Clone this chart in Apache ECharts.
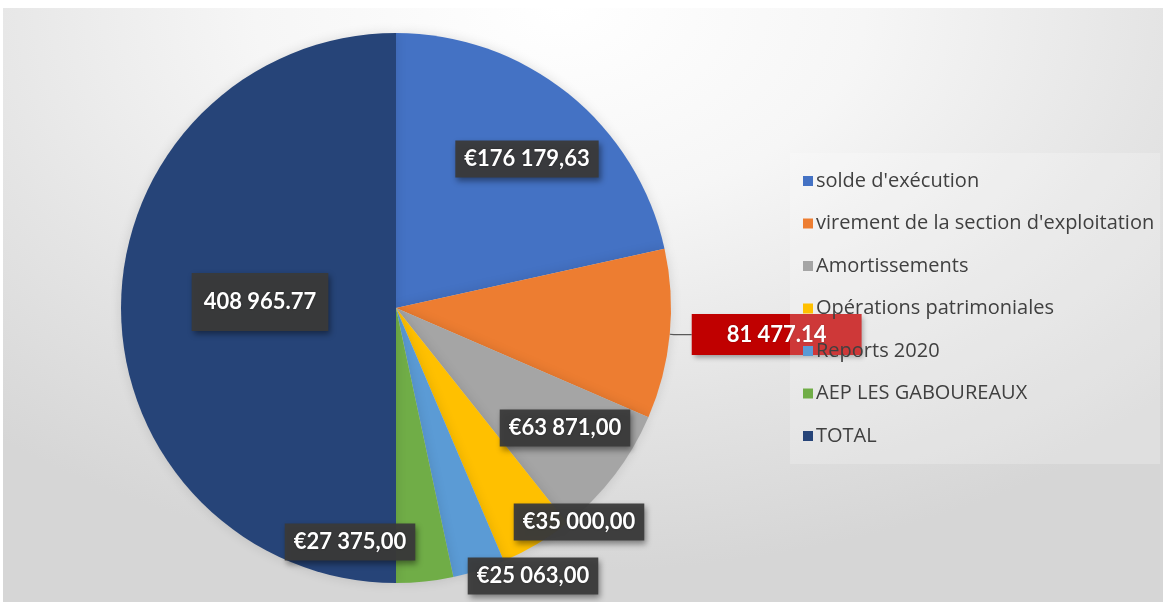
<!DOCTYPE html>
<html>
<head>
<meta charset="utf-8">
<script src="https://cdn.jsdelivr.net/npm/echarts@6/dist/echarts.min.js"></script>
<style>
html,body{margin:0;padding:0;background:#fff;}
#bg{position:absolute;left:3px;top:8px;width:1160px;height:594px;
 background:radial-gradient(ellipse 75% 95% at 48% 0%, #ffffff 0%, #f6f6f6 35%, #e4e4e4 70%, #d6d6d6 100%);}
#chart{position:absolute;left:0;top:0;width:1166px;height:602px;}
</style>
</head>
<body>
<div id="bg"></div>
<div id="chart"></div>
<script>
// ---- data ----
const categories = ["solde d'exécution", "virement de la section d'exploitation", "Amortissements", "Opérations patrimoniales", "Reports 2020", "AEP LES GABOUREAUX", "TOTAL"];
const values = [176179.63, 81477.14, 63871.00, 35000.00, 25063.00, 27375.00, 408965.77];
const labelFormats = ['eur', 'plain', 'eur', 'eur', 'eur', 'eur', 'plain'];

// ---- style ----
const colors = ['#4472C4', '#ED7D31', '#A5A5A5', '#FFC000', '#5B9BD5', '#70AD47', '#264478'];
const labelCenters = {0: [527, 159], 2: [565, 428], 3: [579, 522], 4: [533, 576], 5: [350, 542], 6: [260, 302]};

function groupThousands(intStr) {
  return intStr.replace(/\B(?=(\d{3})+(?!\d))/g, ' ');
}
function fmt(v, kind) {
  const parts = v.toFixed(2).split('.');
  const g = groupThousands(parts[0]);
  return kind === 'eur' ? '€' + g + ',' + parts[1] : g + '.' + parts[1];
}

const FONT = 'Lato, "Open Sans", sans-serif';
const darkLabel = {
  show: true,
  position: 'inside',
  color: '#ffffff',
  fontFamily: FONT,
  fontWeight: 'bold',
  fontSize: 22,
  backgroundColor: 'rgba(58,58,58,0.95)',
  padding: [8, 9, 7, 9],
  textShadowColor: 'rgba(0,0,0,0.4)',
  textShadowBlur: 2,
  shadowColor: 'rgba(0,0,0,0.45)',
  shadowBlur: 6,
  shadowOffsetX: 2,
  shadowOffsetY: 3
};

const seriesData = values.map((v, i) => {
  const item = {name: categories[i], value: v, itemStyle: {color: colors[i]}};
  if (i === 1) {
    item.label = {
      show: true, position: 'outside', color: '#ffffff',
      fontFamily: FONT, fontWeight: 'bold', fontSize: 22,
      backgroundColor: '#C00000', padding: [10, 35, 9, 35],
      distanceToLabelLine: 0,
      textShadowColor: 'rgba(0,0,0,0.3)', textShadowBlur: 2,
      shadowColor: 'rgba(0,0,0,0.35)', shadowBlur: 5, shadowOffsetX: 2, shadowOffsetY: 3
    };
    item.labelLine = {show: true, length: 4, length2: 18, lineStyle: {color: '#5a5a5a', width: 1.2}};
  } else if (i === 6) {
    item.label = Object.assign({}, darkLabel, {padding: [9, 12, 27, 12]});
  }
  return item;
});

const chart = echarts.init(document.getElementById('chart'), null, {renderer: 'canvas'});
chart.setOption({
  animation: false,
  backgroundColor: 'transparent',
  legend: {
    orient: 'vertical',
    left: 790,
    top: 153,
    width: 373,
    padding: [18, 6, 18, 13],
    backgroundColor: 'rgba(255,255,255,0.22)',
    z: 20,
    selectedMode: false,
    icon: 'rect',
    itemWidth: 10,
    itemHeight: 10,
    itemGap: 22.5,
    textStyle: {color: '#404040', fontSize: 20, lineHeight: 20, fontFamily: '"Open Sans", Lato, sans-serif', padding: [0, 0, 0, -2]},
    data: categories
  },
  series: [{
    type: 'pie',
    center: [396, 308],
    radius: 275,
    startAngle: 90,
    clockwise: true,
    avoidLabelOverlap: false,
    z: 2,
    label: Object.assign({}, darkLabel, {
      formatter: p => fmt(p.value, labelFormats[p.dataIndex])
    }),
    labelLine: {show: false},
    labelLayout: function (params) {
      const c = labelCenters[params.dataIndex];
      if (!c) return {};
      return {x: c[0], y: c[1], align: 'center', verticalAlign: 'middle'};
    },
    itemStyle: {shadowColor: 'rgba(0,0,0,0.12)', shadowBlur: 12},
    data: seriesData
  }]
});
</script>
</body>
</html>
